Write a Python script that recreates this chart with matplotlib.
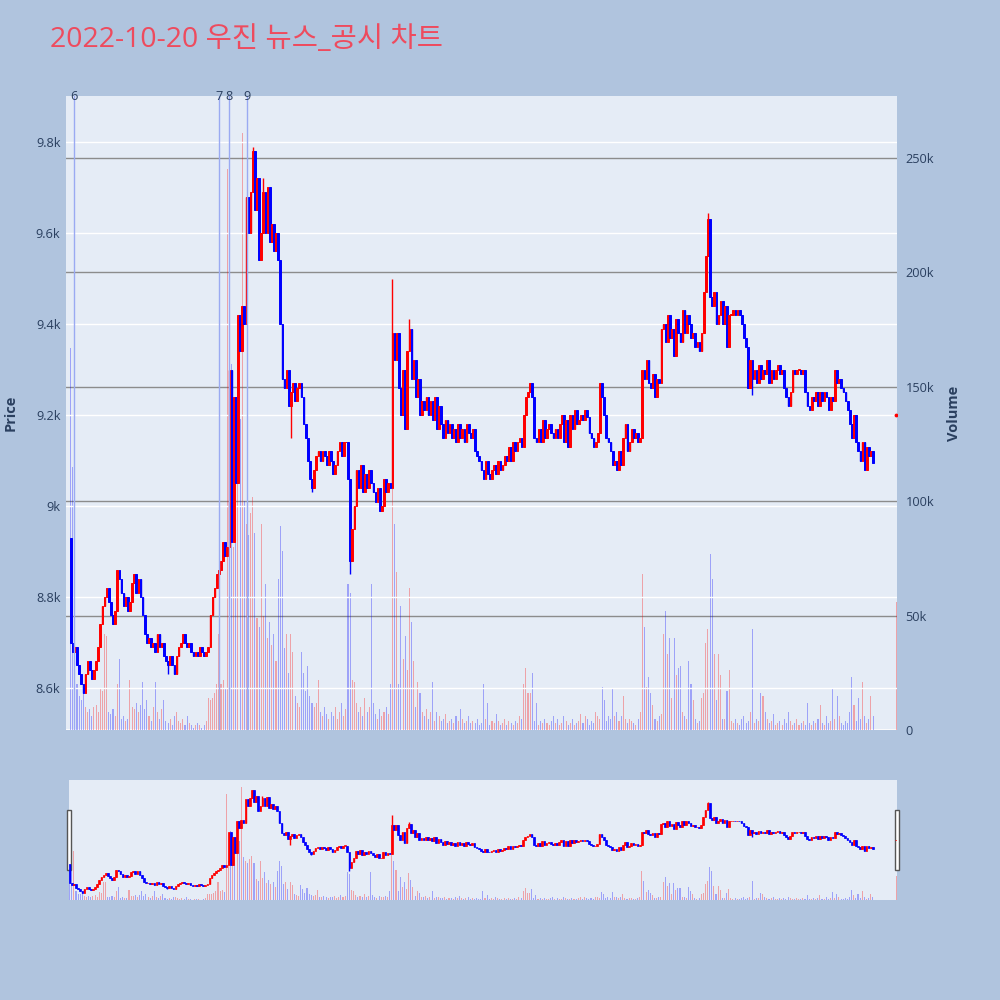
import numpy as np
import pandas as pd
import matplotlib
matplotlib.use('Agg')
import matplotlib.pyplot as plt
import matplotlib.dates as mdates
import matplotlib.transforms as mtransforms
from matplotlib.patches import Rectangle

plt.rcParams['font.family'] = ['Open Sans', 'Noto Sans CJK KR', 'DejaVu Sans']

TITLE = '2022-10-20 우진 뉴스_공시 차트'
START = '2022-10-20 09:00'

# --- 1-minute closes (open of each candle = previous close) ---
first_open = 8930
closes = [
    8700, 8680, 8690, 8650, 8630, 8610, 8590, 8630, 8660, 8640,
    8620, 8640, 8660, 8690, 8740, 8780, 8800, 8820, 8790, 8760,
    8740, 8770, 8860, 8840, 8810, 8780, 8800, 8770, 8790, 8830,
    8850, 8810, 8840, 8800, 8760, 8720, 8700, 8710, 8690, 8700,
    8680, 8720, 8690, 8700, 8670, 8660, 8650, 8670, 8650, 8630,
    8670, 8690, 8700, 8720, 8700, 8690, 8700, 8680, 8670, 8680,
    8670, 8690, 8680, 8670, 8680, 8690, 8760, 8800, 8820, 8850,
    8860, 8880, 8920, 8890, 8910, 9300, 8920, 9240, 9050, 9420,
    9340, 9440, 9400, 9680, 9600, 9690, 9780, 9650, 9720, 9540,
    9600, 9690, 9600, 9700, 9580, 9620, 9560, 9600, 9540, 9400,
    9280, 9260, 9300, 9220, 9250, 9270, 9230, 9260, 9270, 9240,
    9180, 9150, 9100, 9060, 9040, 9080, 9110, 9120, 9100, 9120,
    9110, 9090, 9120, 9100, 9070, 9090, 9120, 9140, 9110, 9140,
    9140, 9060, 8880, 8950, 9000, 9080, 9040, 9090, 9030, 9070,
    9040, 9080, 9050, 9030, 9010, 9040, 8990, 9000, 9060, 9030,
    9050, 9040, 9380, 9320, 9380, 9260, 9200, 9300, 9170, 9340,
    9390, 9280, 9320, 9240, 9280, 9200, 9230, 9210, 9240, 9200,
    9230, 9190, 9240, 9170, 9220, 9180, 9150, 9190, 9160, 9180,
    9150, 9170, 9140, 9180, 9150, 9170, 9140, 9180, 9160, 9150,
    9170, 9120, 9110, 9100, 9080, 9060, 9100, 9070, 9060, 9080,
    9090, 9070, 9100, 9080, 9090, 9110, 9100, 9130, 9100, 9140,
    9120, 9140, 9150, 9130, 9200, 9240, 9250, 9270, 9240, 9150,
    9140, 9170, 9140, 9190, 9150, 9170, 9180, 9160, 9150, 9170,
    9150, 9180, 9200, 9140, 9190, 9130, 9200, 9170, 9210, 9180,
    9190, 9200, 9190, 9210, 9195, 9160, 9150, 9130, 9140, 9160,
    9270, 9240, 9200, 9150, 9140, 9120, 9090, 9100, 9080, 9120,
    9090, 9150, 9180, 9120, 9140, 9170, 9150, 9160, 9140, 9150,
    9300, 9280, 9320, 9270, 9260, 9290, 9240, 9280, 9270, 9390,
    9400, 9360, 9420, 9370, 9390, 9330, 9410, 9380, 9360, 9430,
    9380, 9420, 9400, 9370, 9380, 9350, 9360, 9340, 9380, 9470,
    9550, 9630, 9460, 9440, 9470, 9400, 9420, 9450, 9400, 9440,
    9350, 9420, 9420, 9430, 9420, 9430, 9420, 9400, 9370, 9350,
    9260, 9320, 9280, 9300, 9270, 9310, 9280, 9300, 9290, 9320,
    9270, 9300, 9280, 9300, 9310, 9290, 9300, 9260, 9240, 9220,
    9250, 9300, 9290, 9300, 9300, 9290, 9300, 9250, 9220, 9210,
    9240, 9230, 9250, 9220, 9250, 9230, 9250, 9240, 9210, 9240,
    9230, 9300, 9270, 9280, 9260, 9250, 9230, 9210, 9180, 9150,
    9200, 9140, 9120, 9100, 9140, 9080, 9130, 9110, 9120, 9095,
]
# volume per minute, thousands of shares
volumes_k = [
    167, 115, 112, 20, 15, 13, 18, 10, 8, 9,
    6, 10, 11, 8, 18, 17, 42, 41, 8, 7,
    9, 6, 20, 31, 5, 6, 4, 5, 22, 10,
    9, 12, 8, 11, 21, 9, 13, 6, 4, 10,
    21, 8, 5, 9, 13, 4, 3, 5, 2, 6,
    8, 4, 3, 5, 2, 6, 3, 2, 1, 2,
    3, 2, 1, 2, 4, 14, 13, 14, 16, 20,
    42, 20, 22, 18, 245, 91, 160, 80, 100, 110,
    136, 261, 100, 90, 85, 95, 102, 86, 49, 45,
    90, 50, 64, 40, 47, 37, 42, 30, 66, 89,
    78, 36, 42, 25, 42, 34, 15, 12, 10, 34,
    25, 17, 28, 15, 12, 10, 12, 22, 8, 6,
    10, 7, 5, 8, 6, 10, 5, 8, 12, 6,
    9, 64, 60, 22, 21, 12, 8, 10, 6, 14,
    8, 10, 64, 12, 7, 5, 9, 6, 8, 10,
    7, 20, 150, 90, 69, 20, 54, 31, 41, 26,
    62, 47, 30, 10, 21, 16, 8, 6, 9, 5,
    8, 21, 4, 8, 6, 4, 5, 7, 3, 4,
    5, 3, 6, 4, 9, 5, 3, 4, 6, 3,
    4, 3, 5, 2, 3, 20, 5, 12, 2, 4,
    3, 7, 4, 2, 3, 5, 2, 4, 3, 2,
    4, 3, 6, 5, 20, 27, 16, 16, 25, 4,
    12, 2, 4, 3, 5, 3, 2, 4, 6, 3,
    5, 2, 3, 6, 4, 2, 3, 5, 2, 3,
    4, 7, 3, 6, 5, 2, 4, 3, 8, 6,
    5, 19, 13, 4, 6, 5, 18, 6, 8, 4,
    6, 15, 5, 3, 5, 4, 3, 2, 5, 8,
    68, 45, 19, 23, 16, 11, 5, 4, 6, 7,
    42, 52, 33, 40, 14, 40, 24, 27, 28, 8,
    6, 5, 30, 20, 13, 5, 3, 4, 14, 16,
    38, 44, 77, 66, 33, 13, 33, 24, 5, 5,
    17, 26, 4, 3, 5, 3, 2, 5, 6, 3,
    4, 8, 44, 3, 5, 4, 16, 15, 8, 5,
    3, 4, 7, 2, 3, 4, 2, 5, 3, 8,
    4, 2, 3, 5, 2, 3, 4, 2, 12, 3,
    2, 4, 3, 5, 11, 3, 2, 6, 3, 4,
    18, 5, 15, 6, 3, 2, 4, 3, 8, 23,
    11, 4, 14, 5, 21, 6, 3, 5, 15, 6,
]
# wicks that stick out beyond the bodies
wick_high = {86: 9790, 152: 9500, 160: 9410, 301: 9645, 91: 9720}
wick_low = {104: 9150, 132: 8850, 114: 9030, 322: 9245, 46: 8630}
# closing auction
auction_time = '2022-10-20 15:30'
auction_price = 9200
auction_vol_k = 56
# news / disclosure markers
news_times = ['2022-10-20 09:01:40', '2022-10-20 10:10:00',
              '2022-10-20 10:14:50', '2022-10-20 10:23:20']
news_labels = ['6', '7', '8', '9']

UP, DOWN = '#FF0000', '#0000FF'
BG_FIG, BG_PLOT = '#B0C4DE', '#E5ECF6'
TXT = '#2A3F5F'
MIN = 1 / 1440

times = pd.date_range(START, periods=len(closes), freq='min')
t = mdates.date2num(times.to_pydatetime())
c = np.array(closes, float)
o = np.r_[first_open, c[:-1]]
# auction print appended as its own flat candle
t = np.r_[t, mdates.date2num(pd.Timestamp(auction_time).to_pydatetime())]
o = np.r_[o, auction_price]
c = np.r_[c, auction_price]
vol = np.r_[volumes_k, auction_vol_k] * 1000.0
hi = np.maximum(o, c)
lo = np.minimum(o, c)
for k, v in wick_high.items():
    hi[k] = max(hi[k], v)
for k, v in wick_low.items():
    lo[k] = min(lo[k], v)
up = c >= o
col = np.where(up, UP, DOWN)

t0 = mdates.date2num(pd.Timestamp(START).to_pydatetime())
PRICE_LIM = (8508, 9901)
VOL_LIM = (0, 277000)


def draw(ax, axv, body_w, body_lw, vol_w):
    axv.bar(t, vol, width=vol_w * MIN, color=np.where(up, '#FF000050', '#0000FF50'),
            linewidth=0, zorder=1)
    ax.vlines(t, lo, hi, colors=col, lw=1, zorder=3)
    ax.bar(t, np.maximum(np.abs(c - o), 1), bottom=np.minimum(o, c),
           width=body_w * MIN, color=col, edgecolor=col, linewidth=body_lw, zorder=4)


fig = plt.figure(figsize=(10, 10), dpi=100, facecolor=BG_FIG)

# --- main panel ---
axv = fig.add_axes([0.066, 0.270, 0.831, 0.634])
ax = axv.twinx()
axv.set_facecolor(BG_PLOT)
ax.patch.set_visible(False)
ax.yaxis.tick_left()
ax.yaxis.set_label_position('left')
axv.yaxis.tick_right()
axv.yaxis.set_label_position('right')

draw(ax, axv, 0.8, 0.7, 0.5)
ax.scatter([t[-1]], [auction_price], s=3, color=UP, zorder=5)

ax.set_ylim(*PRICE_LIM)
axv.set_ylim(*VOL_LIM)
ax.set_xlim(t0 - 2.2 * MIN, t0 + 390.3 * MIN)

ax.set_yticks(np.arange(8600, 9801, 200))
ax.yaxis.set_major_formatter(lambda v, p: f'{v / 1000:g}k')
axv.set_yticks(np.arange(0, 250001, 50000))
axv.yaxis.set_major_formatter(lambda v, p: '0' if v == 0 else f'{v / 1000:g}k')

# white price grid, grey volume grid
for y in np.arange(8600, 9801, 200):
    ax.axhline(y, color='white', lw=1, zorder=0.5)
axv.grid(axis='y', color='#8C8C8C', lw=1)
axv.axhline(0, color='white', lw=2, zorder=0.6)
axv.set_axisbelow(True)

hours = [t0 + h * 60 * MIN for h in range(7)]
axv.set_xticks(hours)
axv.set_xticklabels([f'{9 + h:02d}:00' + ('\nOct 20, 2022' if h == 0 else '') for h in range(7)],
                    linespacing=1.35)
ax.set_xticks([])

for a in (ax, axv):
    for s in a.spines.values():
        s.set_visible(False)
    a.tick_params(length=0, colors=TXT, labelsize=9.2)
ax.tick_params(axis='y', pad=4)
axv.tick_params(axis='y', pad=6)
axv.tick_params(axis='x', pad=5)

ax.set_ylabel('Price', fontsize=10.5, fontweight='bold', color=TXT)
ax.yaxis.set_label_coords(-0.058, 0.5)
axv.set_ylabel('Volume', fontsize=10.5, fontweight='bold', color=TXT)
axv.yaxis.set_label_coords(1.060, 0.5)

trans = mtransforms.blended_transform_factory(ax.transData, ax.transAxes)
for ts, lab in zip(news_times, news_labels):
    x = mdates.date2num(pd.Timestamp(ts).to_pydatetime())
    ax.axvline(x, color='#9AAAF2', lw=1, zorder=6)
    ax.text(x, 1.0, lab, transform=trans, ha='center', va='center',
            fontsize=9.2, color=TXT, zorder=7)

# --- range slider ---
sv = fig.add_axes([0.069, 0.100, 0.828, 0.120])
sp = sv.twinx()
sv.set_facecolor(BG_PLOT)
sp.patch.set_visible(False)
draw(sp, sv, 0.8, 0.5, 0.5)
sp.set_ylim(*PRICE_LIM)
sv.set_ylim(*VOL_LIM)
sp.set_xlim(t0 - 0.3 * MIN, t0 + 390.4 * MIN)
for a in (sv, sp):
    a.set_xticks([])
    a.set_yticks([])
    for s in a.spines.values():
        s.set_visible(False)
for xf in (0.0, 1.0):
    sv.add_patch(Rectangle((xf - 0.0025, 0.25), 0.005, 0.5, transform=sv.transAxes,
                           facecolor='white', edgecolor='#555555', lw=1,
                           clip_on=False, zorder=10))

fig.text(0.05, 0.96, TITLE, fontsize=20.5, color='#EE4B5E', va='center', ha='left',
         family=['Open Sans', 'Noto Sans CJK KR', 'DejaVu Sans'])

fig.savefig('out.png', dpi=100, facecolor=BG_FIG)
